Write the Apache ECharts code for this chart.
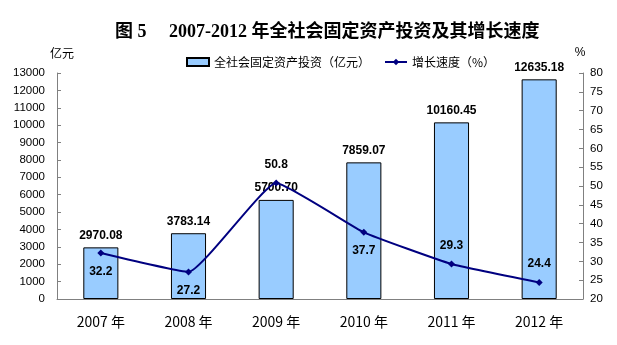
<!DOCTYPE html>
<html><head><meta charset="utf-8">
<script src="https://cdn.jsdelivr.net/npm/echarts@6/dist/echarts.min.js"></script>
<style>html,body{margin:0;padding:0;background:#fff}#c{width:617px;height:345px}</style>
</head><body><div id="c"></div>
<script>
var categories = ['2007 年','2008 年','2009 年','2010 年','2011 年','2012 年'];
var investment = [2970.08, 3783.14, 5700.70, 7859.07, 10160.45, 12635.18];
var growth = [32.2, 27.2, 50.8, 37.7, 29.3, 24.4];
var growthLabelPos = ['bottom','bottom','top','bottom','top','top'];
var investmentName = '全社会固定资产投资（亿元）';
var growthName = '增长速度（%）';

var chart = echarts.init(document.getElementById('c'), null, {renderer:'canvas'});
var axisGray = '#808080';
chart.setOption({
  animation: false,
  backgroundColor: '#fff',
  title: {
    text: '图 5     2007-2012 年全社会固定资产投资及其增长速度',
    left: 110, top: 18,
    textStyle: {fontFamily: '"Liberation Serif","Noto Sans CJK SC"', fontSize: 18, fontWeight: 'bold', color: '#000'}
  },
  legend: {
    left: 181, top: 51, itemGap: 14, itemWidth: 22, itemHeight: 8,
    textStyle: {fontFamily: '"Noto Sans CJK SC"', fontSize: 12, color: '#000'},
    data: [
      {name: investmentName, icon: 'rect'},
      {name: growthName}
    ]
  },
  grid: {left: 57, right: 34, top: 73, bottom: 46},
  xAxis: {
    type: 'category', data: categories,
    axisLine: {lineStyle: {color: axisGray, width: 1}},
    axisTick: {inside: true, length: 4, lineStyle: {color: axisGray}},
    axisLabel: {color: '#000', fontSize: 14, margin: 16, fontFamily: '"Noto Sans CJK SC"'}
  },
  yAxis: [
    {
      type: 'value', min: 0, max: 13000, interval: 1000,
      name: '亿元', nameLocation: 'end', nameGap: 14,
      nameTextStyle: {color: '#000', fontSize: 12, align: 'left', padding: [0, 0, 0, -7], fontFamily: '"Noto Sans CJK SC"'},
      axisLine: {show: true, lineStyle: {color: axisGray}},
      axisTick: {show: true, inside: true, length: 4, lineStyle: {color: axisGray}},
      axisLabel: {color: '#000', fontSize: 11.5, margin: 12, fontFamily: 'Arial, "Liberation Sans"',
        formatter: function(v){return String(v);}},
      splitLine: {show: false}
    },
    {
      type: 'value', min: 20, max: 80, interval: 5,
      name: '%', nameLocation: 'end', nameGap: 14,
      nameTextStyle: {color: '#000', fontSize: 12, align: 'center', padding: [0, 6, 0, 0], fontFamily: 'Arial, "Liberation Sans"'},
      axisLine: {show: true, lineStyle: {color: axisGray}},
      axisTick: {show: true, inside: true, length: 4, lineStyle: {color: axisGray}},
      axisLabel: {color: '#000', fontSize: 11.5, margin: 7, fontFamily: 'Arial, "Liberation Sans"'},
      splitLine: {show: false}
    }
  ],
  series: [
    {
      name: investmentName, type: 'bar', data: investment, barWidth: '40%',
      itemStyle: {color: '#99CCFF', borderColor: '#000', borderWidth: 1},
      label: {show: true, position: 'top', distance: 6, color: '#000', fontWeight: 'bold', fontSize: 12,
        fontFamily: 'Arial, "Liberation Sans"', formatter: function(p){return p.value.toFixed(2);}}
    },
    {
      name: growthName, type: 'line', yAxisIndex: 1,
      data: growth.map(function(v,i){return {value: v, label: {position: growthLabelPos[i]}};}),
      smooth: 0.12, symbol: 'diamond', symbolSize: 7,
      lineStyle: {color: '#000080', width: 2}, itemStyle: {color: '#000080'},
      label: {show: true, distance: 9, color: '#000', fontWeight: 'bold', fontSize: 12, fontFamily: 'Arial, "Liberation Sans"'}
    }
  ]
});
</script></body></html>
